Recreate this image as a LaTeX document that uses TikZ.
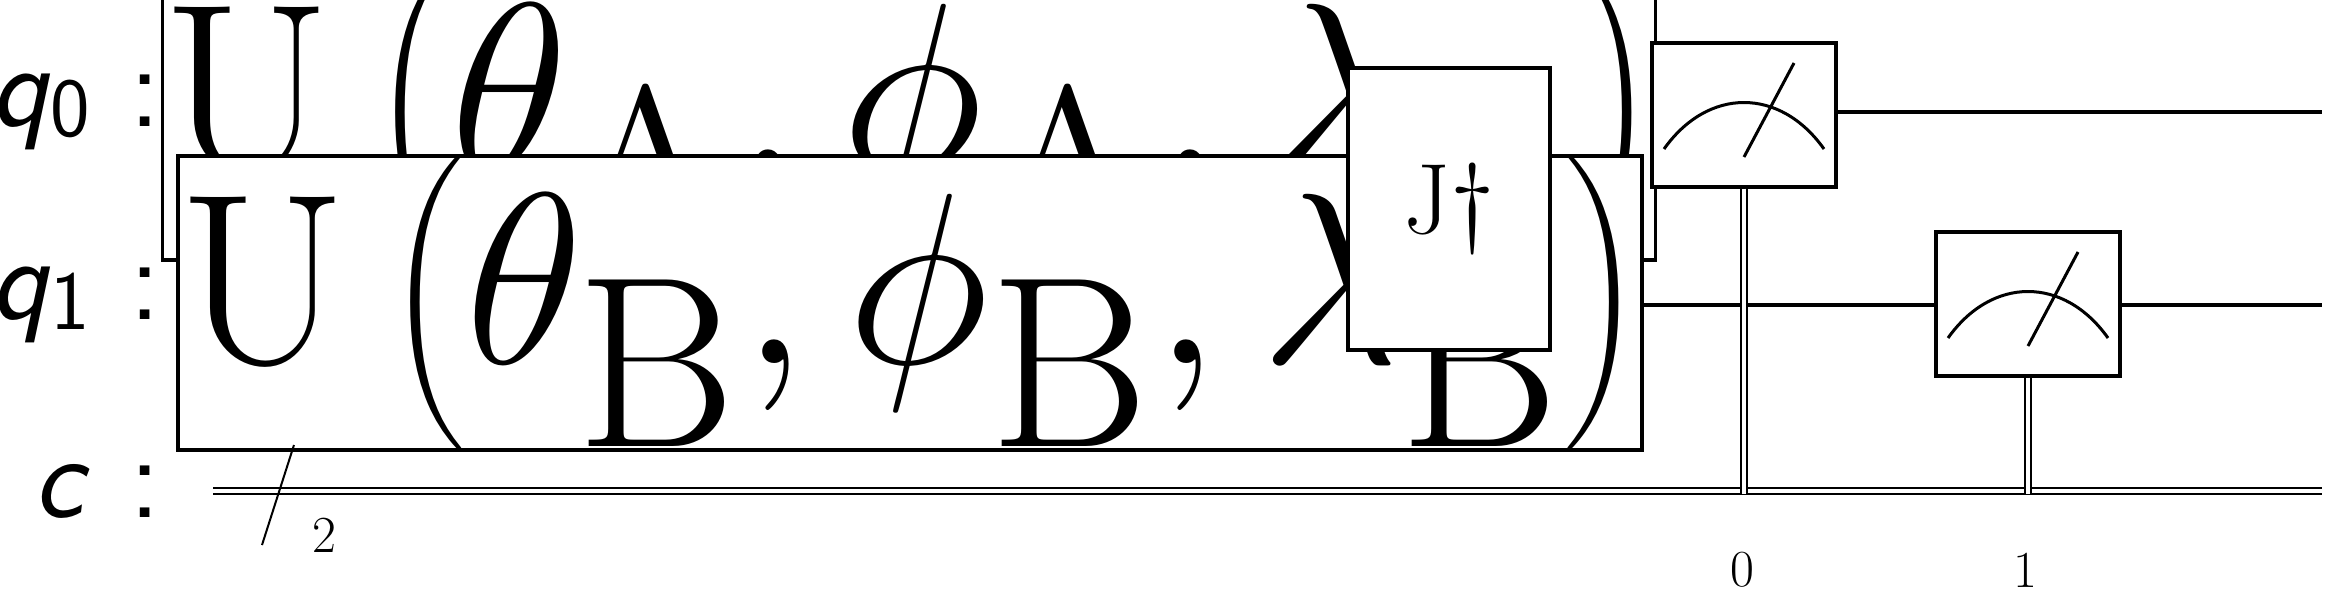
\documentclass[tikz,border=0pt]{standalone}
\usepackage{graphicx}
\begin{document}
\begin{tikzpicture}[x=0.5pt,y=-0.5pt,
  gate/.style={draw,line width=1.6pt,fill=white,inner sep=0pt,font=\fontsize{50}{60}\selectfont},
  wire/.style={line width=1.6pt},
  cwire/.style={double,line width=1.2pt,double distance=2pt},
  lbl/.style={font=\fontsize{60}{66}\selectfont\sffamily,anchor=east}]
\useasboundingbox (0,0) rectangle (2340,607);
% wires
\coordinate (w0s) at (213,112); \coordinate (w0e) at (2322,112);
\coordinate (w1s) at (213,305); \coordinate (w1e) at (2322,305);
\coordinate (cs) at (213,491); \coordinate (ce) at (2322,491);
\draw[wire] (w0s) -- (w0e);
\draw[wire] (w1s) -- (w1e);
\draw[cwire] (cs) -- (ce);
\node[lbl] (l0) at (168,112) {\textit{q}\raisebox{-0.2ex}{\fontsize{42}{44}\selectfont 0}\,\,:};
\node[lbl] (l1) at (168,305) {\textit{q}\raisebox{-0.2ex}{\fontsize{42}{44}\selectfont 1}\,\,:};
\node[lbl] (lc) at (168,491) {\textit{c}\,\,:};
% gates
\node[gate,minimum width=77pt,minimum height=141pt] (J) at (393,209) {J};
\node[gate,minimum width=339pt,minimum height=83pt] (UA) at (909,113) {\scalebox{4.9}{$\mathrm{U}\left(\theta_{\mathrm{A}},\phi_{\mathrm{A}},\lambda_{\mathrm{A}}\right)$}};
\node[gate,minimum width=335pt,minimum height=83pt] (UB) at (910,303) {\scalebox{4.9}{$\mathrm{U}\left(\theta_{\mathrm{B}},\phi_{\mathrm{B}},\lambda_{\mathrm{B}}\right)$}};
\node[gate,minimum width=101pt,minimum height=141pt] (Jd) at (1449,209) {J\textdagger};
% measurements
\node[gate,minimum width=92pt,minimum height=72pt] (M0) at (1744,115) {};
\node[gate,minimum width=92pt,minimum height=72pt] (M1) at (2028,304) {};
\foreach \m in {M0,M1}{
  \draw[line width=1.5pt] ([xshift=-40pt,yshift=-17pt]\m.center) .. controls ([xshift=-18pt,yshift=14pt]\m.center) and ([xshift=18pt,yshift=14pt]\m.center) .. ([xshift=40pt,yshift=-17pt]\m.center);
  \draw[line width=1.5pt] ([xshift=0pt,yshift=-21pt]\m.center) -- ([xshift=25pt,yshift=26pt]\m.center);
}
\coordinate (c0) at (1744,494); \coordinate (c1) at (2028,494);
\draw[cwire] (M0.south) -- (c0);
\draw[cwire] (M1.south) -- (c1);
% bus slash
\coordinate (sa) at (294,445); \coordinate (sb) at (262,545);
\draw[line width=1pt] (sa) -- (sb);
\node[font=\fontsize{26}{30}\selectfont] (n2) at (324,535) {2};
\node[font=\fontsize{26}{30}\selectfont] (n0) at (1742,570) {0};
\node[font=\fontsize{26}{30}\selectfont] (n1) at (2025,570) {1};
\end{tikzpicture}
\end{document}
